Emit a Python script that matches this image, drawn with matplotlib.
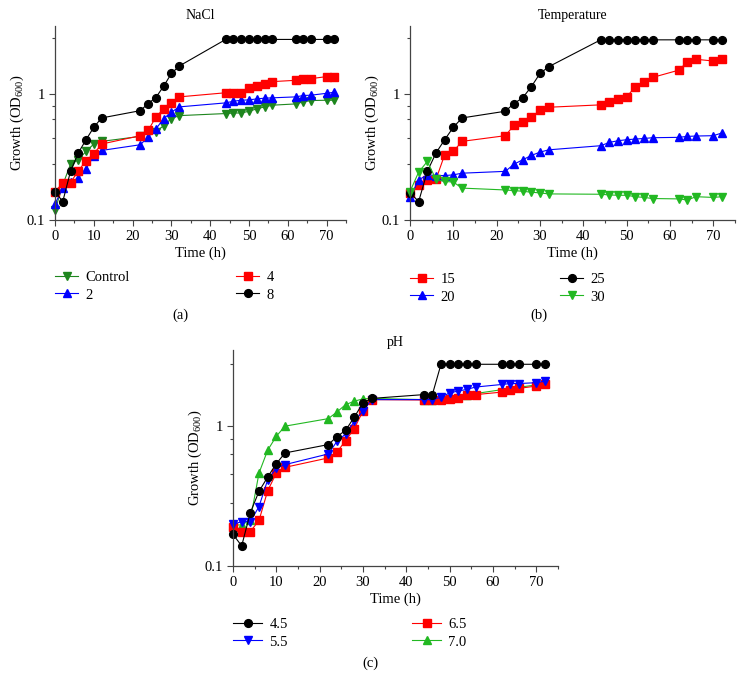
import matplotlib
matplotlib.use("Agg")
import matplotlib.pyplot as plt
from matplotlib.ticker import FixedLocator, MultipleLocator, NullFormatter

plt.rcParams['font.family'] = ['Liberation Serif', 'DejaVu Serif']
plt.rcParams['font.size'] = 10
plt.rcParams['mathtext.default'] = 'regular'

time = [0, 2, 4, 6, 8, 10, 12, 22, 24, 26, 28, 30, 32,
        44, 46, 48, 50, 52, 54, 56, 62, 64, 66, 70, 72]

# NaCl panel
nacl_control = [0.119, 0.19, 0.277, 0.30, 0.35, 0.40, 0.42, 0.46, 0.51, 0.50, 0.56, 0.637, 0.672,
                0.698, 0.705, 0.705, 0.728, 0.76, 0.788, 0.813, 0.832, 0.864, 0.885, 0.89, 0.89]
nacl_2 = [0.134, 0.179, 0.20, 0.215, 0.255, 0.323, 0.356, 0.395, 0.455, 0.526, 0.637, 0.715, 0.788,
          0.848, 0.874, 0.89, 0.896, 0.912, 0.924, 0.93, 0.946, 0.97, 0.976, 1.01, 1.03]
nacl_4 = [0.168, 0.196, 0.198, 0.245, 0.295, 0.335, 0.40, 0.466, 0.514, 0.652, 0.764, 0.848, 0.946,
          1.02, 1.02, 1.02, 1.12, 1.15, 1.20, 1.25, 1.28, 1.30, 1.32, 1.37, 1.37]
nacl_8 = [0.168, 0.14, 0.243, 0.34, 0.433, 0.543, 0.644, 0.736, 0.838, 0.935, 1.15, 1.45, 1.66,
          2.7, 2.7, 2.7, 2.7, 2.7, 2.7, 2.7, 2.7, 2.7, 2.7, 2.7, 2.7]

# Temperature panel
temp_15 = [0.165, 0.19, 0.208, 0.21, 0.329, 0.35, 0.42, 0.466, 0.563, 0.595, 0.656, 0.741, 0.783,
           0.818, 0.859, 0.918, 0.946, 1.14, 1.24, 1.35, 1.54, 1.79, 1.88, 1.82, 1.88]
temp_20 = [0.151, 0.208, 0.228, 0.225, 0.225, 0.228, 0.235, 0.243, 0.277, 0.30, 0.325, 0.345, 0.36,
           0.388, 0.412, 0.425, 0.433, 0.438, 0.443, 0.449, 0.452, 0.46, 0.463, 0.466, 0.49]
temp_25 = [0.165, 0.14, 0.243, 0.34, 0.433, 0.543, 0.644, 0.728, 0.838, 0.93, 1.14, 1.45, 1.64,
           2.68, 2.68, 2.68, 2.68, 2.68, 2.68, 2.68, 2.68, 2.68, 2.68, 2.68, 2.68]
temp_30 = [0.168, 0.24, 0.291, 0.21, 0.202, 0.20, 0.179, 0.173, 0.171, 0.169, 0.166, 0.164, 0.161,
           0.16, 0.158, 0.157, 0.157, 0.153, 0.151, 0.148, 0.147, 0.144, 0.153, 0.151, 0.153]

# pH panel
ph_45 = [0.168, 0.139, 0.24, 0.34, 0.43, 0.535, 0.638, 0.732, 0.834, 0.926, 1.15, 1.45, 1.56,
         1.66, 1.66, 2.73, 2.73, 2.73, 2.73, 2.73, 2.73, 2.73, 2.73, 2.73, 2.73]
ph_55 = [0.198, 0.207, 0.207, 0.265, 0.41, 0.498, 0.527, 0.628, 0.773, 0.871, 1.07, 1.27, 1.53,
         1.53, 1.53, 1.59, 1.71, 1.76, 1.81, 1.88, 1.96, 1.99, 1.99, 2.02, 2.07]
ph_65 = [0.191, 0.176, 0.176, 0.211, 0.343, 0.459, 0.504, 0.588, 0.648, 0.782, 0.952, 1.27, 1.53,
         1.52, 1.52, 1.52, 1.55, 1.58, 1.64, 1.66, 1.73, 1.78, 1.84, 1.91, 1.96]
ph_70 = [0.196, 0.196, 0.213, 0.459, 0.667, 0.839, 0.99, 1.12, 1.25, 1.41, 1.49, 1.55, 1.56,
         1.53, 1.53, 1.54, 1.57, 1.61, 1.66, 1.69, 1.8, 1.83, 1.87, 1.95, 2.0]

GREEN_DARK = '#1e861e'
GREEN = '#22b822'

fig = plt.figure(figsize=(7.44, 6.9), dpi=100)
W, H = 744.0, 690.0


def add_axes(left, top, right, bottom):
    return fig.add_axes([left / W, 1 - bottom / H, (right - left) / W, (bottom - top) / H])


def style_axes(ax, title, title_pad):
    ax.set_yscale('log')
    ax.set_xlim(0, 75)
    ax.set_ylim(0.1, 3.45)
    ax.yaxis.set_major_locator(FixedLocator([0.1, 1]))
    ax.yaxis.set_minor_locator(FixedLocator([0.28, 0.45, 0.63, 0.8, 2.75]))
    ax.yaxis.set_minor_formatter(NullFormatter())
    ax.set_yticklabels(['0.1', '1'])
    ax.xaxis.set_minor_locator(MultipleLocator(5))
    ax.set_xticks(range(0, 71, 10))
    for s in ('top', 'right'):
        ax.spines[s].set_visible(False)
    for s in ('left', 'bottom'):
        ax.spines[s].set_color('#444444')
        ax.spines[s].set_linewidth(0.9)
    ax.tick_params(which='major', length=4, width=0.8, color='#444444', pad=3, labelsize=10.5)
    ax.tick_params(which='minor', length=2.5, width=0.8, color='#444444')
    ax.set_xlabel('Time (h)', labelpad=3, fontsize=10.5)
    ax.set_ylabel('Growth (OD$_{600}$)', labelpad=1, fontsize=10.5)
    ax.set_title(title, pad=title_pad, fontsize=10)


def draw(ax, y, color, marker):
    ms = 6.2 if marker in ('^', 'v') else 5.6
    line, = ax.plot(time, y, color=color, marker=marker, markersize=ms,
                    markeredgecolor=color, linewidth=0.8, clip_on=False)
    return line


def two_col_legend(ax, handles, labels, x1, x2, ymid, hl):
    for k, xs in enumerate((x1, x2)):
        leg = ax.legend(handles[2 * k:2 * k + 2], labels[2 * k:2 * k + 2],
                        loc='center left', bbox_to_anchor=(xs / W, 1 - ymid / H),
                        bbox_transform=fig.transFigure, frameon=False,
                        borderpad=0, borderaxespad=0, handlelength=hl,
                        handletextpad=0.5, labelspacing=0.32, fontsize=10.5)
        if k == 0:
            ax.add_artist(leg)


# (a) NaCl
ax1 = add_axes(55, 26, 346, 220)
style_axes(ax1, 'NaCl', 5)
l_c = draw(ax1, nacl_control, GREEN_DARK, 'v')
l_2 = draw(ax1, nacl_2, 'blue', '^')
l_4 = draw(ax1, nacl_4, 'red', 's')
l_8 = draw(ax1, nacl_8, 'black', 'o')
two_col_legend(ax1, [l_c, l_2, l_4, l_8], ['Control', '2', '4', '8'], 55, 236, 286, 1.6)
fig.text(180 / W, 1 - 315 / H, '(a)', ha='center', va='center', fontsize=10.5)

# (b) Temperature
ax2 = add_axes(410, 26, 735, 220)
style_axes(ax2, 'Temperature', 5)
l_15 = draw(ax2, temp_15, 'red', 's')
l_20 = draw(ax2, temp_20, 'blue', '^')
l_25 = draw(ax2, temp_25, 'black', 'o')
l_30 = draw(ax2, temp_30, GREEN, 'v')
two_col_legend(ax2, [l_15, l_20, l_25, l_30], ['15', '20', '25', '30'], 410, 560, 288, 1.6)
fig.text(539 / W, 1 - 315 / H, '(b)', ha='center', va='center', fontsize=10.5)

# (c) pH
ax3 = add_axes(233, 350, 558, 566)
style_axes(ax3, 'pH', 3)
l_70 = draw(ax3, ph_70, GREEN, '^')
l_65 = draw(ax3, ph_65, 'red', 's')
l_55 = draw(ax3, ph_55, 'blue', 'v')
l_45 = draw(ax3, ph_45, 'black', 'o')
two_col_legend(ax3, [l_45, l_55, l_65, l_70], ['4.5', '5.5', '6.5', '7.0'], 233, 412, 633, 2.0)
fig.text(370 / W, 1 - 663 / H, '(c)', ha='center', va='center', fontsize=10.5)

fig.savefig('out.png', dpi=100)
